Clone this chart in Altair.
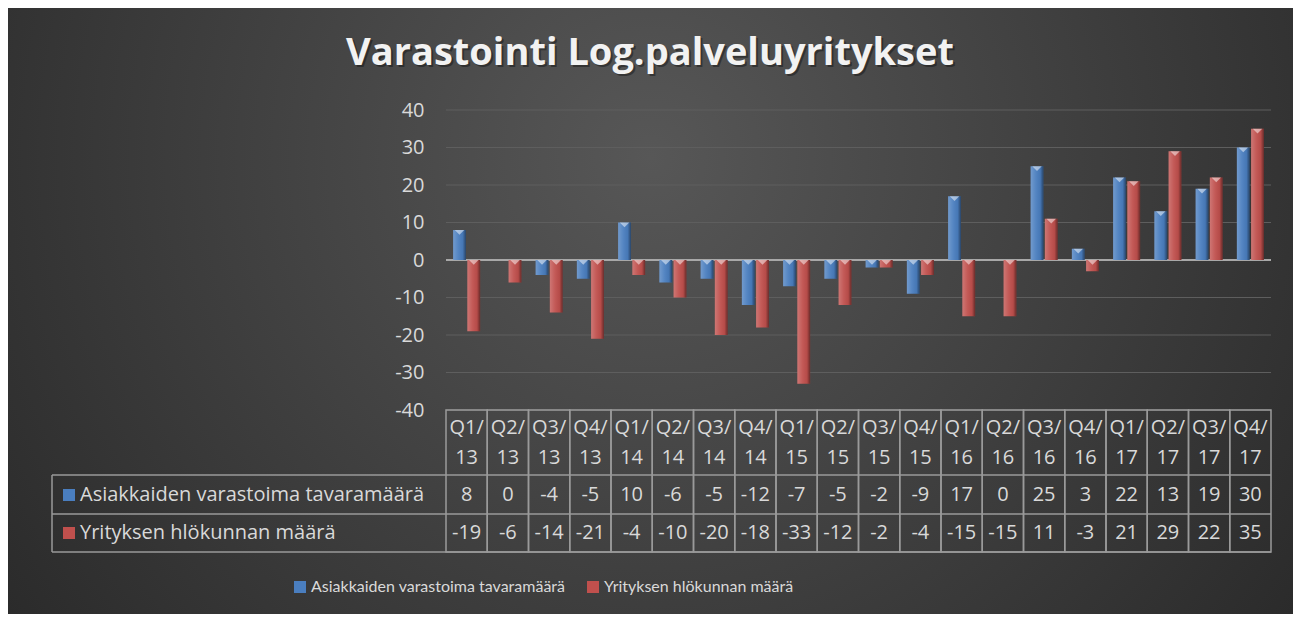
import altair as alt
import pandas as pd

categories = ["Q1/13", "Q2/13", "Q3/13", "Q4/13", "Q1/14", "Q2/14", "Q3/14", "Q4/14",
              "Q1/15", "Q2/15", "Q3/15", "Q4/15", "Q1/16", "Q2/16", "Q3/16", "Q4/16",
              "Q1/17", "Q2/17", "Q3/17", "Q4/17"]
series_names = ["Asiakkaiden varastoima tavaramäärä", "Yrityksen hlökunnan määrä"]
values_a = [8, 0, -4, -5, 10, -6, -5, -12, -7, -5, -2, -9, 17, 0, 25, 3, 22, 13, 19, 30]
values_b = [-19, -6, -14, -21, -4, -10, -20, -18, -33, -12, -2, -4, -15, -15, 11, -3, 21, 29, 22, 35]
y_ticks = [-40, -30, -20, -10, 0, 10, 20, 30, 40]
title_text = "Varastointi Log.palveluyritykset"
series_colors = ["#4a7ebf", "#c0504d"]

rows = []
for s, vals in zip(series_names, [values_a, values_b]):
    for c, v in zip(categories, vals):
        rows.append({"cat": c, "series": s, "value": v})
df = pd.DataFrame(rows)
df["top"] = df["value"].clip(lower=0)
df["label"] = df["value"].astype(str)
cat_df = pd.DataFrame({
    "cat": categories,
    "l1": [c.split("/")[0] + "/" for c in categories],
    "l2": [c.split("/")[1] for c in categories],
})
one = pd.DataFrame({"a": [0]})
tick_df = pd.DataFrame({"t": y_ticks})

W, H = 825, 300
PL, PT, PR, PB = 438, 102, 22, 204
FONT = "Open Sans"
TXT = "#d9d9d9"
LINE = "#9a9a9a"

x_scale = alt.Scale(domain=categories, paddingInner=0, paddingOuter=0)
xoff_scale = alt.Scale(domain=series_names, paddingInner=0.1, paddingOuter=0.5)
y_scale = alt.Scale(domain=[-40, 40], nice=False, zero=False)
y_axis = alt.Axis(values=y_ticks, grid=False, domain=False, ticks=False, title=None,
                  labelFont=FONT, labelFontSize=20, labelColor=TXT, labelPadding=22,
                  labelFlush=False, labelOverlap=False, zindex=1,
                  labelExpr="'' + datum.value")

X = alt.X("cat:N", scale=x_scale, axis=None)
XO = alt.XOffset("series:N", scale=xoff_scale)


def Y(field):
    return alt.Y(field, scale=y_scale, axis=y_axis)


bg = alt.Chart(one).mark_rect(fill={
    "gradient": "radial", "x1": 0.5, "y1": 0.38, "r1": 0, "x2": 0.5, "y2": 0.38, "r2": 0.78,
    "stops": [{"offset": 0, "color": "#575757"}, {"offset": 1, "color": "#1f1f1f"}]
}).encode(x=alt.value(-PL), x2=alt.value(W + PR), y=alt.value(-PT), y2=alt.value(H + PB))

grid = alt.Chart(tick_df).mark_rule(color="#5e5e5e", strokeWidth=1).encode(
    y=Y("t:Q"), x=alt.value(0), x2=alt.value(W))

bars = alt.Chart(df).mark_bar().encode(
    x=X, xOffset=XO,
    y=Y("value:Q"), y2=alt.datum(0),
    color=alt.Color("series:N", scale=alt.Scale(domain=series_names, range=series_colors),
                    legend=alt.Legend(orient="none", legendX=-154, legendY=469,
                                      direction="horizontal", title=None,
                                      symbolType="square", symbolSize=144,
                                      symbolStrokeWidth=0, symbolOpacity=1,
                                      labelFont="Lato", labelFontSize=16,
                                      labelColor=TXT, columnPadding=19, labelOffset=3,
                                      labelLimit=500)))

shade = alt.Chart(df).mark_bar(fill={
    "gradient": "linear", "x1": 0, "y1": 0, "x2": 1, "y2": 0,
    "stops": [{"offset": 0, "color": "rgba(255,255,255,0.22)"},
              {"offset": 0.4, "color": "rgba(255,255,255,0.06)"},
              {"offset": 0.75, "color": "rgba(0,0,0,0.05)"},
              {"offset": 1, "color": "rgba(0,0,0,0.45)"}]
}).encode(x=X, xOffset=XO, y=Y("value:Q"), y2=alt.datum(0))

tri = alt.Chart(df).transform_filter("datum.value != 0").mark_point(
    shape="M-1,0L1,0L0,1Z", filled=True, size=90, opacity=0.5, strokeWidth=0,
).encode(x=X, xOffset=XO, y=Y("top:Q"), color=alt.value("white"))

zero = alt.Chart(one).transform_calculate(z="0").mark_rule(
    color="#a8a8a8", strokeWidth=2).encode(y=Y("z:Q"), x=alt.value(0), x2=alt.value(W))

cells = alt.Chart(cat_df).mark_rect(fill="transparent", stroke=LINE, strokeWidth=1.5).encode(
    x=X, y=alt.value(300), y2=alt.value(442))


def hrule(yv):
    return alt.Chart(one).mark_rule(color=LINE, strokeWidth=1.5).encode(
        x=alt.value(-394), x2=alt.value(W), y=alt.value(yv))


left = alt.Chart(one).mark_rule(color=LINE, strokeWidth=1.5).encode(
    x=alt.value(-394), y=alt.value(365), y2=alt.value(442))

txt = dict(font=FONT, fontSize=20, color=TXT, baseline="middle")
h1 = alt.Chart(cat_df).mark_text(**txt).encode(x=X, y=alt.value(318), text="l1:N")
h2 = alt.Chart(cat_df).mark_text(**txt).encode(x=X, y=alt.value(348), text="l2:N")
r1 = alt.Chart(df).transform_filter(alt.datum.series == series_names[0]).mark_text(**txt).encode(
    x=X, y=alt.value(385), text="label:N")
r2 = alt.Chart(df).transform_filter(alt.datum.series == series_names[1]).mark_text(**txt).encode(
    x=X, y=alt.value(423), text="label:N")

lab_df = pd.DataFrame({"name": series_names})
lab1 = alt.Chart(lab_df).transform_filter(alt.datum.name == series_names[0]).mark_text(
    align="left", **txt).encode(x=alt.value(-366), y=alt.value(385), text="name:N")
lab2 = alt.Chart(lab_df).transform_filter(alt.datum.name == series_names[1]).mark_text(
    align="left", **txt).encode(x=alt.value(-366), y=alt.value(423), text="name:N")
ic1 = alt.Chart(one).mark_square(size=144, color=series_colors[0], opacity=1).encode(
    x=alt.value(-377), y=alt.value(385))
ic2 = alt.Chart(one).mark_square(size=144, color=series_colors[1], opacity=1).encode(
    x=alt.value(-377), y=alt.value(423))

title_shadow = alt.Chart(one).mark_text(font=FONT, fontSize=38, fontWeight="bold",
                                        color="black", opacity=0.35, baseline="alphabetic").encode(
    x=alt.value(206), y=alt.value(-43), text=alt.value(title_text))
title = alt.Chart(one).mark_text(font=FONT, fontSize=38, fontWeight="bold",
                                 color="#f2f2f2", baseline="alphabetic").encode(
    x=alt.value(204), y=alt.value(-45), text=alt.value(title_text))

chart = alt.layer(
    bg, grid, zero, bars, shade, tri, cells, hrule(365), hrule(404), hrule(442), left,
    h1, h2, r1, r2, lab1, lab2, ic1, ic2, title_shadow, title
).properties(
    width=W, height=H, autosize="none",
    padding={"left": PL, "top": PT, "right": PR, "bottom": PB},
    background="#262626",
).configure_view(strokeWidth=0)

chart.save("out.html", embed_options={"renderer": "svg", "actions": False})
